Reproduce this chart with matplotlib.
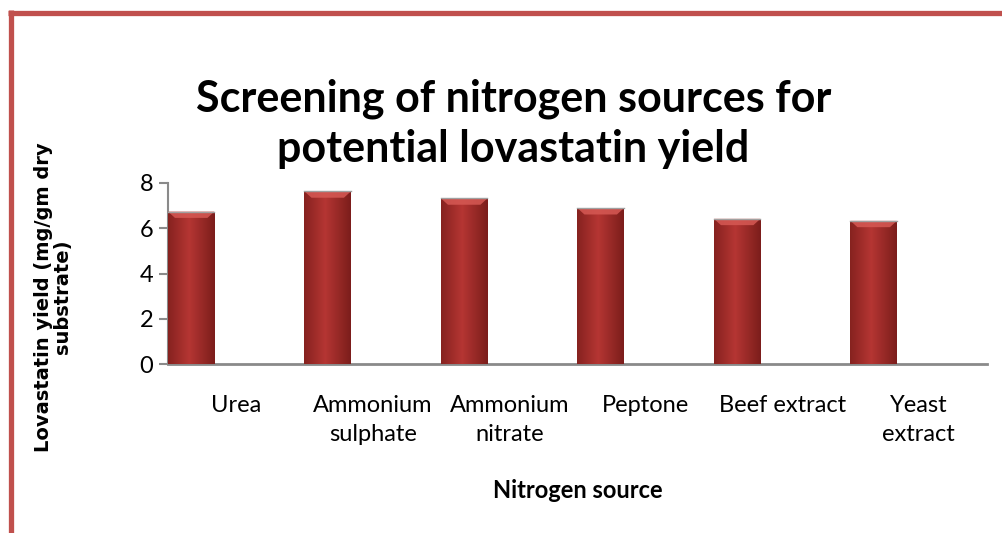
"""Screening of nitrogen sources for lovastatin yield - bar chart"""

import matplotlib.pyplot as plt
import numpy as np
from matplotlib.lines import Line2D

categories = ['Urea', 'Ammonium\nsulphate', 'Ammonium\nnitrate', 'Peptone',
              'Beef extract', 'Yeast\nextract']
yield_vals = [6.74, 7.63, 7.32, 6.89, 6.42, 6.33]
y_ticks = [0, 2, 4, 6, 8]

fig = plt.figure(figsize=(10.03, 5.33), dpi=100)
ax = fig.add_axes([0.1675, 0.3165, 0.8165, 0.3402])

x = np.arange(len(categories))
bars = ax.bar(x - 0.33, yield_vals, width=0.34, color='#a8302e',
              edgecolor='none', zorder=2)

# horizontal gradient + light top bevel on every bar
grad = np.linspace(0, 1, 64)
prof = np.clip(1 - np.abs(grad - 0.45) * 1.7, 0, 1)
dark = np.array([0.47, 0.11, 0.10])
light = np.array([0.71, 0.21, 0.20])
img = (dark[None, :] + (light - dark)[None, :] * prof[:, None])[None, :, :]
for b in bars:
    x0, w, h = b.get_x(), b.get_width(), b.get_height()
    im = ax.imshow(img, extent=[x0, x0 + w, 0, h], aspect='auto', zorder=3,
                   interpolation='bilinear')
    im.set_clip_path(b)
    ax.fill([x0, x0 + w, x0 + w * 0.85, x0 + w * 0.15],
            [h, h, h - 0.28, h - 0.28], color='#d65954', alpha=0.85,
            lw=0, zorder=4)
    ax.plot([x0, x0 + w], [h, h], color='#a0a0a0', lw=1, zorder=5)

ax.set_xlim(-0.5, 5.5)
ax.set_ylim(0, 8)
ax.set_yticks(y_ticks)
ax.set_xticks(x)
ax.set_xticklabels(categories, fontsize=17, family='Lato', linespacing=1.5)
ax.tick_params(axis='x', length=0, pad=22)
ax.tick_params(axis='y', length=6.5, width=1.5, color='#8a8a8a',
               labelsize=17, pad=4)
for lab in ax.get_yticklabels():
    lab.set_family('Lato')

for s in ['top', 'right']:
    ax.spines[s].set_visible(False)
ax.spines['left'].set_color('#8a8a8a')
ax.spines['bottom'].set_color('#8a8a8a')
ax.spines['left'].set_linewidth(1.5)
ax.spines['bottom'].set_linewidth(2)

ax.set_ylabel('Lovastatin yield (mg/gm dry\nsubstrate)', fontsize=14,
              fontweight='bold', family='DejaVu Sans', linespacing=1.0)
ax.yaxis.set_label_coords(-0.117, 0.37)
ax.set_xlabel('Nitrogen source', fontsize=17, fontweight='bold',
              family='Lato', labelpad=24)

fig.text(0.512, 0.853, 'Screening of nitrogen sources for\npotential lovastatin yield',
         ha='center', va='top', fontsize=31, fontweight='bold', family='Lato',
         linespacing=1.3)

# red frame
fig.add_artist(Line2D([10.5 / 1003, 10.5 / 1003], [0, 1 - 10 / 533],
                      color='#c0504d', lw=3.8, solid_capstyle='butt'))
fig.add_artist(Line2D([8.5 / 1003, 1], [1 - 12.5 / 533, 1 - 12.5 / 533],
                      color='#c0504d', lw=3.8, solid_capstyle='butt'))

fig.savefig('out.png', dpi=100)
